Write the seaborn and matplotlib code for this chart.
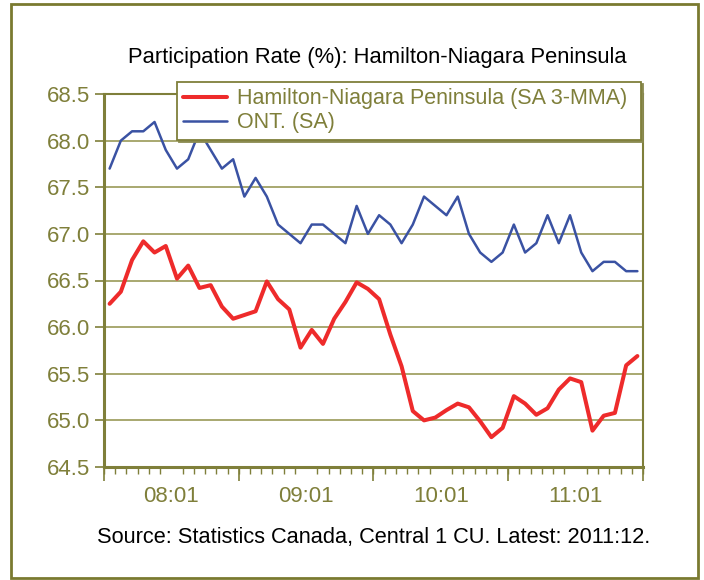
import numpy as np
import pandas as pd
import matplotlib
matplotlib.use("Agg")
import matplotlib.pyplot as plt
import seaborn as sns
from matplotlib.patches import Rectangle

# monthly data, 2008:01 .. 2011:12
months = [f"{y:02d}:{m:02d}" for y in range(8, 12) for m in range(1, 13)]

hamilton = [66.25, 66.38, 66.72, 66.92, 66.80, 66.87, 66.52, 66.66, 66.42, 66.45,
            66.22, 66.09, 66.13, 66.17, 66.49, 66.30, 66.19, 65.78, 65.97, 65.82,
            66.09, 66.27, 66.48, 66.41, 66.30, 65.92, 65.58, 65.10, 65.00, 65.03,
            65.11, 65.18, 65.14, 64.99, 64.82, 64.92, 65.26, 65.18, 65.06, 65.13,
            65.33, 65.45, 65.41, 64.89, 65.05, 65.08, 65.59, 65.69]

ontario = [67.7, 68.0, 68.1, 68.1, 68.2, 67.9, 67.7, 67.8, 68.1, 67.9,
           67.7, 67.8, 67.4, 67.6, 67.4, 67.1, 67.0, 66.9, 67.1, 67.1,
           67.0, 66.9, 67.3, 67.0, 67.2, 67.1, 66.9, 67.1, 67.4, 67.3,
           67.2, 67.4, 67.0, 66.8, 66.7, 66.8, 67.1, 66.8, 66.9, 67.2,
           66.9, 67.2, 66.8, 66.6, 66.7, 66.7, 66.6, 66.6]

year_labels = ["08:01", "09:01", "10:01", "11:01"]
series_names = ["Hamilton-Niagara Peninsula (SA 3-MMA)", "ONT. (SA)"]

df = pd.DataFrame({
    "idx": list(range(len(months))) * 2,
    "value": hamilton + ontario,
    "series": [series_names[0]] * len(months) + [series_names[1]] * len(months),
})

olive = "#7f7f3a"
grid_c = "#a8a870"
red = "#ee2b2b"
blue = "#3a52a3"

sns.set_style("white")
plt.rcParams["font.family"] = ["Liberation Sans", "DejaVu Sans"]

fig = plt.figure(figsize=(7.04, 5.80), dpi=100)
ax = fig.add_axes([104 / 704, 1 - 467 / 580, 539 / 704, 373 / 580])

sns.lineplot(data=df, x="idx", y="value", hue="series", ax=ax,
             palette={series_names[0]: red, series_names[1]: blue},
             legend=False)
lines = ax.get_lines()
lines[0].set_linewidth(2.9)
lines[1].set_linewidth(1.8)
lines[0].set_zorder(3)

n = len(months)
ax.set_xlim(-0.5, n - 0.5)
ax.set_ylim(64.5, 68.5)
yt = np.arange(64.5, 68.51, 0.5)
ax.set_yticks(yt)
ax.set_yticklabels([f"{v:.1f}" for v in yt])
ax.yaxis.grid(True, color=grid_c, lw=1.4)
ax.set_axisbelow(True)
ax.set_xlabel("")
ax.set_ylabel("")

# year labels centred in each 12-month block, no tick mark
ax.set_xticks([5.5 + 12 * k for k in range(len(year_labels))])
ax.set_xticklabels(year_labels)
ax.set_xticks(np.arange(-0.5, n, 1.0), minor=True)
ax.tick_params(axis="x", which="major", length=0, pad=14, labelsize=16, labelcolor=olive)
ax.tick_params(axis="x", which="minor", length=5, width=1, color=olive, direction="out", bottom=True)
ax.tick_params(axis="y", length=6.5, width=1.2, color=olive, direction="out", left=True,
               labelsize=16, labelcolor=olive, pad=3.5)

# longer year-boundary ticks
sec = ax.secondary_xaxis("bottom")
sec.set_xticks([-0.5 + 12 * k for k in range(len(year_labels) + 1)])
sec.set_xticklabels([])
sec.tick_params(length=10, width=1.2, color=olive, direction="out")
sec.spines["bottom"].set_visible(False)

for side, w in [("left", 2.2), ("bottom", 2.2), ("top", 1.5), ("right", 1.5)]:
    ax.spines[side].set_color(olive)
    ax.spines[side].set_linewidth(w)

# legend
handles = [plt.Line2D([], [], color=red, lw=2.9),
           plt.Line2D([], [], color=blue, lw=1.8)]
leg = fig.legend(handles, series_names, loc="upper left",
                 bbox_to_anchor=(177 / 704, 1 - 141 / 580, 464 / 704, 59 / 580),
                 mode="expand", fontsize=15.5, frameon=True, fancybox=False,
                 borderaxespad=0, handlelength=2.0, handletextpad=0.5,
                 labelspacing=0.14, borderpad=0.3,
                 shadow={"color": "#8a8a50", "alpha": 1.0, "ox": 1.5, "oy": -1.5})
leg.get_frame().set_edgecolor(olive)
leg.get_frame().set_linewidth(1.3)
leg.get_frame().set_facecolor("white")
for t in leg.get_texts():
    t.set_color(olive)

fig.text(377 / 704, 1 - 57 / 580, "Participation Rate (%): Hamilton-Niagara Peninsula",
         ha="center", va="center", fontsize=15.8, color="black")
fig.text(374 / 704, 1 - 537 / 580, "Source: Statistics Canada, Central 1 CU. Latest: 2011:12.",
         ha="center", va="center", fontsize=15.7, color="black")

fig.patches.append(Rectangle((11 / 704, 2 / 580), 687 / 704, 574 / 580,
                             transform=fig.transFigure, fill=False,
                             edgecolor="#7a7a30", lw=2.0))

fig.savefig("out.png", dpi=100)
